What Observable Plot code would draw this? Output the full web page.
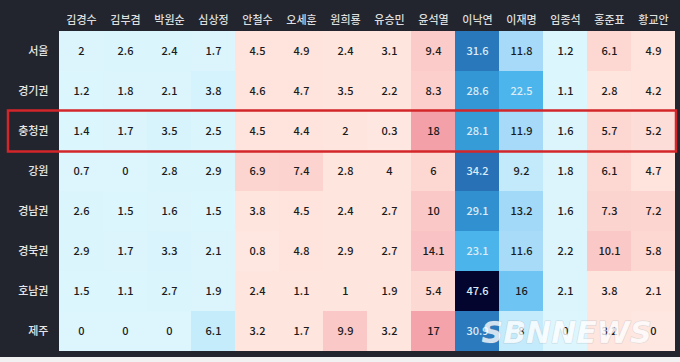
<!DOCTYPE html>
<html><head><meta charset="utf-8">
<script src="https://cdn.jsdelivr.net/npm/d3@7"></script>
<script src="https://cdn.jsdelivr.net/npm/@observablehq/plot@0.6"></script>
<style>
html,body{margin:0;padding:0;background:#f1f1f1;}
#c{width:680px;height:362px;overflow:hidden;}
svg{display:block;}
</style></head><body><div id="c"></div>
<script>
const candidates = ["김경수","김부겸","박원순","심상정","안철수","오세훈","원희룡","유승민","윤석열","이낙연","이재명","임종석","홍준표","황교안"];
const camp = ["blue","blue","blue","blue","red","red","red","red","red","blue","blue","blue","red","red"];
const regions = ["서울","경기권","충청권","강원","경남권","경북권","호남권","제주"];
const values = [
  [2,2.6,2.4,1.7,4.5,4.9,2.4,3.1,9.4,31.6,11.8,1.2,6.1,4.9],
  [1.2,1.8,2.1,3.8,4.6,4.7,3.5,2.2,8.3,28.6,22.5,1.1,2.8,4.2],
  [1.4,1.7,3.5,2.5,4.5,4.4,2,0.3,18,28.1,11.9,1.6,5.7,5.2],
  [0.7,0,2.8,2.9,6.9,7.4,2.8,4,6,34.2,9.2,1.8,6.1,4.7],
  [2.6,1.5,1.6,1.5,3.8,4.5,2.4,2.7,10,29.1,13.2,1.6,7.3,7.2],
  [2.9,1.7,3.3,2.1,0.8,4.8,2.9,2.7,14.1,23.1,11.6,2.2,10.1,5.8],
  [1.5,1.1,2.7,1.9,2.4,1.1,1,1.9,5.4,47.6,16,2.1,3.8,2.1],
  [0,0,0,6.1,3.2,1.7,9.9,3.2,17,30.9,8,0,3.2,0]
];
const highlight = ["충청권"];
const watermark = ["SBNNEWS"];

const blueScale = d3.scaleLinear()
  .domain([0, 3, 6, 9.5, 11.5, 13.5, 16, 22.5, 25, 28.5, 30.5, 34.5, 47.6])
  .range(["#ddf6fe","#dbf5fd","#c4ecfb","#c2eafb","#a7dbf8","#a1d7f8","#6ec5f4","#4cb6ec","#45afe8","#3399d6","#2b7bbf","#2870b5","#03052f"])
  .clamp(true);
const redScale = d3.scaleLinear()
  .domain([0, 5, 5.3, 7.5, 10, 14.5, 17, 18])
  .range(["#fee7e0","#fee4dd","#fdd9d4","#fcd3cf","#fbc8c8","#f9c1c4","#f4a3ab","#f3a0a9"])
  .clamp(true);

const data = [];
regions.forEach((r,i) => candidates.forEach((c,j) => data.push({region:r, cand:c, camp:camp[j], v:values[i][j]})));
const fillOf = d => d.camp === "blue" ? blueScale(d.v) : redScale(d.v);
const textOf = d => (d.camp === "blue" && d.v > 20) ? "#dcebf6" : "#1c1c1c";

const font = "'Noto Sans CJK KR','Noto Sans',sans-serif";
const plot = Plot.plot({
  width: 680, height: 357,
  marginLeft: 58, marginRight: 5, marginTop: 31, marginBottom: 6,
  style: {background: "#22252e", fontFamily: font},
  x: {domain: candidates, padding: 0, axis: null},
  y: {domain: regions, padding: 0, axis: null},
  marks: [
    Plot.cell(data, {x: "cand", y: "region", fill: fillOf}),
    Plot.text(data, {x: "cand", y: "region", text: d => String(d.v), fill: textOf, fontSize: 11, fontWeight: 500}),
    Plot.text(candidates, {x: d => d, frameAnchor: "top", dy: -15, text: d => d, fill: "#dedede", fontSize: 11, fontWeight: 500}),
    Plot.text(regions, {y: d => d, frameAnchor: "left", dx: -10, textAnchor: "end", text: d => d, fill: "#e6e6e6", fontSize: 11, fontWeight: 500}),
    Plot.cell(highlight, {y: d => d, fill: "none", stroke: "#d3262a", strokeWidth: 2.5, insetLeft: -50, insetRight: -1, insetTop: -0.5, insetBottom: -0.5}),
    Plot.text(watermark, {frameAnchor: "bottom-right", dx: -24, dy: -9, text: d => d, textAnchor: "end", lineAnchor: "bottom", fontSize: 30, fontWeight: "bold", fontStyle: "italic", fontFamily: "DejaVu Sans", fill: "#ffffff", fillOpacity: 0.8, stroke: "#9aa3ad", strokeOpacity: 0.35, strokeWidth: 1})
  ]
});
document.getElementById("c").appendChild(plot);
</script></body></html>
